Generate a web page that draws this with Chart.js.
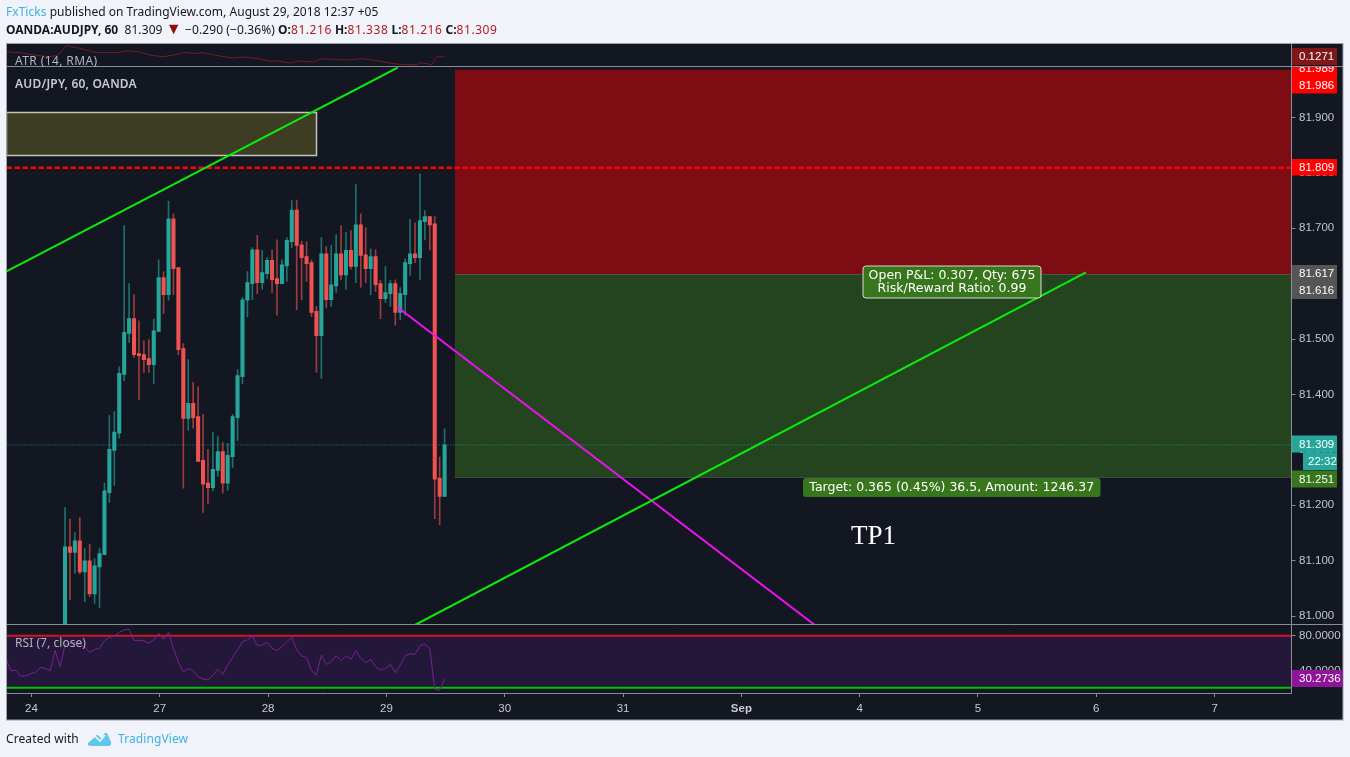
<!DOCTYPE html>
<html>
<head>
<meta charset="utf-8">
<title>AUD/JPY, 60, OANDA</title>
<script src="https://cdn.jsdelivr.net/npm/chart.js@4/dist/chart.umd.min.js"></script>
<style>
html,body{margin:0;padding:0;background:#f0f3fa;width:1350px;height:757px;overflow:hidden}
canvas{position:absolute;left:0;top:0}
.t{position:absolute;left:6px;font:12px/16px "Noto Sans",sans-serif;color:#131722;white-space:nowrap}
.blue{color:#3bb3e4}.red{color:#b01c1c;letter-spacing:.55px}.b{font-weight:700}.n{letter-spacing:.1px}
</style>
</head>
<body>
<canvas id="c" width="1350" height="757"></canvas>
<div class="t" style="top:4px;letter-spacing:.03px"><span class="blue">FxTicks</span> published on TradingView.com, August 29, 2018 12:37 +05</div>
<div class="t" style="top:22px"><span class="b">OANDA:AUDJPY, 60</span>&nbsp; <span class="n">81.309 <span style="color:#8b0f0f;font-size:16px;line-height:12px">▼</span> −0.290 (−0.36%)</span> <span class="b">O:</span><span class="red">81.216</span> <span class="b">H:</span><span class="red">81.338</span> <span class="b">L:</span><span class="red">81.216</span> <span class="b">C:</span><span class="red">81.309</span></div>
<div class="t" style="top:731px;letter-spacing:.1px">Created with</div>
<svg style="position:absolute;left:87px;top:730px" width="25" height="17" viewBox="0 0 25 17"><path d="M1 13 L8 6 Q10 4 12 6 L15 9 L17 4 Q19 1 21 5 L24 12 Q25 16 21 16 L4 16 Q0 16 1 13Z" fill="#62c6ec"/><path d="M2 11 L8 6 L13 11 L18 5" fill="none" stroke="#f0f3fa" stroke-width="1.6"/></svg>
<div class="t blue" style="left:118px;top:731px;letter-spacing:.1px">TradingView</div>
<script>
// ---------- data ----------
const firstBar = -5.2;            // bar number of first indicator sample
const candleOffset = 12;          // candles begin this many samples later
const xTickBars   = [0,26,48,72,96,120,144,168,192,216,240];
const xTickLabels = ['24','27','28','29','30','31','Sep','4','5','6','7'];
const priceTicks  = [81.0,81.1,81.2,81.3,81.4,81.5,81.6,81.7,81.8,81.9];
const rsiTicks    = [80,40];

const opens = [80.96,81.125,81.115,81.136,81.080,81.100,81.040,81.089,81.111,81.223,81.299,81.330,81.436,81.510,81.537,81.474,81.472,81.465,81.454,81.514,
81.611,81.580,81.717,81.629,81.483,81.357,81.384,81.360,81.281,81.240,81.232,81.263,81.297,81.240,81.288,81.358,81.432,81.570,81.600,81.661,
81.602,81.618,81.642,81.609,81.600,81.632,81.676,81.733,81.670,81.649,81.638,81.550,81.506,81.654,81.571,81.596,81.654,81.616,81.660,81.631,
81.706,81.652,81.627,81.649,81.600,81.573,81.582,81.600,81.548,81.580,81.636,81.654,81.647,81.712,81.721,81.708,81.249,81.216];
const highs = [81.196,81.175,81.151,81.178,81.122,81.130,81.104,81.122,81.240,81.362,81.369,81.450,81.705,81.600,81.580,81.533,81.497,81.499,81.536,81.643,
81.622,81.749,81.726,81.629,81.492,81.463,81.422,81.414,81.364,81.301,81.332,81.324,81.313,81.312,81.364,81.445,81.575,81.622,81.665,81.687,
81.660,81.647,81.661,81.679,81.643,81.683,81.750,81.751,81.677,81.676,81.643,81.559,81.683,81.667,81.669,81.688,81.705,81.692,81.696,81.779,
81.726,81.701,81.663,81.661,81.606,81.631,81.606,81.607,81.593,81.645,81.716,81.710,81.798,81.732,81.721,81.721,81.287,81.338];
const lows = [80.94,81.030,81.077,81.076,81.026,81.035,81.023,81.015,81.111,81.205,81.236,81.321,81.425,81.494,81.467,81.390,81.440,81.440,81.419,81.514,
81.546,81.570,81.580,81.472,81.231,81.335,81.339,81.279,81.187,81.203,81.226,81.252,81.222,81.227,81.268,81.317,81.419,81.540,81.571,81.582,
81.590,81.609,81.584,81.543,81.600,81.604,81.665,81.553,81.571,81.604,81.541,81.440,81.429,81.556,81.559,81.584,81.607,81.590,81.626,81.602,
81.593,81.602,81.580,81.586,81.537,81.566,81.559,81.525,81.535,81.543,81.615,81.638,81.607,81.679,81.661,81.176,81.165,81.216];
const closes = [81.125,81.115,81.136,81.080,81.100,81.040,81.091,81.113,81.226,81.301,81.332,81.438,81.512,81.537,81.472,81.470,81.463,81.454,81.515,81.611,
81.580,81.717,81.627,81.481,81.357,81.384,81.358,81.279,81.238,81.232,81.265,81.297,81.240,81.290,81.360,81.434,81.571,81.602,81.661,81.602,
81.620,81.642,81.607,81.600,81.634,81.678,81.733,81.669,81.647,81.636,81.548,81.506,81.654,81.571,81.598,81.654,81.616,81.660,81.631,81.706,
81.651,81.627,81.649,81.598,81.573,81.584,81.600,81.548,81.582,81.638,81.654,81.647,81.714,81.721,81.706,81.247,81.216,81.309];

const rsiValues = [53.9,39.6,40,33.5,33.5,36.2,37.7,43.1,42.3,39.6,63.1,44.2,69.2,
71,72,70,67,60.8,64.2,65.4,74.2,78.1,79.6,83.9,86.6,87.3,74.6,74.6,73.9,71.2,75,82.7,75.8,
83.9,65.4,49.2,38.5,41.9,39.6,32.7,30,28.9,34.6,41.2,35.4,46.2,55,63.5,73.1,75,79.6,68.5,69.2,72.3,65.4,62.7,67.3,73.1,78.1,63.5,56.5,54.6,39.6,34.6,57.7,46.9,50,56.9,51.2,56.9,52.7,62.7,53.9,48.9,52.7,44.2,40.4,42.3,46.9,37.3,46.2,56.9,59.2,58.5,68.5,70,65.4,18.1,16.6,30.27];

const atrBars = [-5,-2.3,0.4,3.75,5.4,7.1,9.8,12.9,18,19,21.7,24,26.7,29.1,30.8,32.8,34.8,38.2,40.9,43,45.7,48.7,50,51.8,53.1,54.1,55.8,57.5,58.5,61.2,63.9,67,69.3,73,74.7,78.1,79.1,81.2,82.2,83.8];
const atrValues = [.1311,.1303,.1285,.1271,.1285,.1359,.1338,.1306,.1306,.1319,.1311,.1285,.1271,.1287,.1306,.1298,.1303,.1277,.1261,.1269,.1258,.1234,.1239,.1223,.1223,.1239,.1231,.1231,.1255,.1250,.1245,.1255,.1245,.1218,.1210,.1207,.1223,.1207,.1271,.1271];

const trendUpperBars = [-5.07,74.3],  trendUpperPrices = [81.622,81.990];
const trendLowerBars = [77.8,213.9],  trendLowerPrices = [80.984,81.6205];
const trendMagentaBars = [74.34,158.9], trendMagentaPrices = [81.557,80.984];
const stopPrice = 81.809, lastPrice = 81.309;
const zoneStartBar = 85.9, zoneEndBar = 255.6;
const stopTop = 81.986, entry = 81.617, target = 81.251;
const boxEndBar = 57.7, boxTop = 81.909, boxBottom = 81.8315;
const rsiUpper = 80, rsiLower = 20;

// ---------- chart ----------
const PL = 6.5, PT = 44, PR = 1291.5, PB = 693, FR = 1343, FB = 720;
const seq = (arr, start) => arr.map((y,i)=>({x:firstBar+start+i, y}));
const pairs = (xs, ys) => xs.map((x,i)=>({x, y:ys[i]}));
const candleX = i => firstBar + candleOffset + i;
const up = i => closes[i] >= opens[i];
const wickUp='rgba(38,166,154,.62)', wickDn='rgba(239,83,80,.62)', bodyUp='#26a69a', bodyDn='#ef5350';
const line = (data, color, width, yAxisID, extra={}) => Object.assign({type:'line',data,borderColor:color,borderWidth:width,pointRadius:0,tension:0,yAxisID,xAxisID:'x',fill:false,parsing:{xAxisKey:'x',yAxisKey:'y'}},extra);

function roundRect(ctx,x,y,w,h,r){ctx.beginPath();ctx.roundRect(x,y,w,h,r);}
const sans='"Noto Sans", sans-serif';
const axisFont='"Liberation Sans", Arial, sans-serif';
const panelFont='"DejaVu Sans", sans-serif';

const chrome = {
  id:'chrome',
  beforeDraw(chart){
    const c=chart.ctx; c.save();
    c.fillStyle='#131722'; c.fillRect(6,43,FR-6,FB-43);
    c.restore();
  },
  beforeDatasetsDraw(chart){
    const c=chart.ctx, s=chart.scales, x=s.x, y=s.yMain, r=s.yRsi; c.save();
    // RSI band
    c.fillStyle='#24183a';
    c.fillRect(x.left,r.getPixelForValue(rsiUpper),x.right-x.left,r.getPixelForValue(rsiLower)-r.getPixelForValue(rsiUpper));
    c.beginPath(); c.rect(x.left,y.top,x.right-x.left,y.bottom-y.top); c.clip();
    const zx=x.getPixelForValue(zoneStartBar), ze=x.getPixelForValue(zoneEndBar);
    const yt=y.getPixelForValue(stopTop), ye=y.getPixelForValue(entry), yb=y.getPixelForValue(target);
    c.fillStyle='#7d0c13'; c.fillRect(zx,yt,ze-zx,ye-yt);
    c.fillStyle='#244420'; c.fillRect(zx,ye,ze-zx,yb-ye);
    c.strokeStyle='rgba(120,130,120,.45)'; c.lineWidth=1;
    c.beginPath(); c.moveTo(zx,Math.round(ye)+.5); c.lineTo(ze,Math.round(ye)+.5); c.moveTo(zx,Math.round(yb)+.5); c.lineTo(ze,Math.round(yb)+.5); c.stroke();
    // supply box
    const bx=x.getPixelForValue(boxEndBar), bt=y.getPixelForValue(boxTop), bb=y.getPixelForValue(boxBottom);
    c.fillStyle='#3c3d22'; c.fillRect(x.left,bt,bx-x.left,bb-bt);
    c.strokeStyle='#c4c5ba'; c.lineWidth=1.5;
    c.strokeRect(x.left,Math.round(bt)+.5,Math.round(bx)-x.left+.5,Math.round(bb-bt));
    c.restore();
  },
  afterDatasetsDraw(chart){
    const c=chart.ctx, s=chart.scales, x=s.x, y=s.yMain, a=s.yAtr, r=s.yRsi; c.save();
    // pane lines and frame
    c.strokeStyle='#8a8d95'; c.lineWidth=1;
    c.beginPath();
    c.moveTo(6,Math.round(a.bottom)-.5); c.lineTo(FR,Math.round(a.bottom)-.5);
    c.moveTo(6,Math.round(y.bottom)-.5); c.lineTo(FR,Math.round(y.bottom)-.5);
    c.moveTo(6,PB+.5); c.lineTo(PR,PB+.5);
    c.moveTo(PR,43); c.lineTo(PR,PB+.5);
    c.stroke();
    c.strokeStyle='#9ea1a8';
    c.strokeRect(6.5,43.5,FR-6.5,FB-43.5);

    // pane captions
    c.textBaseline='alphabetic'; c.textAlign='left';
    c.save(); c.beginPath(); c.rect(7,44,400,23); c.clip();
    c.letterSpacing='.4px';
    c.font='12px '+sans; c.fillStyle='#b2b5be'; c.fillText('ATR (14, RMA)',15,65); c.restore();
    c.letterSpacing='.2px';
    c.font='600 12px '+sans; c.fillStyle='#c8cad0'; c.fillText('AUD/JPY, 60, OANDA',15,88);
    c.letterSpacing='.05px';
    c.font='12px '+sans; c.fillStyle='#b2b5be'; c.fillText('RSI (7, close)',15,647);
    c.letterSpacing='0px';

    // order panels
    const panel=(bx,by,bw,bh,border,lines)=>{
      roundRect(c,bx,by,bw,bh,3); c.fillStyle='#38761d'; c.fill();
      if(border){c.strokeStyle='#d5dcd2'; c.lineWidth=1; c.stroke();}
      c.fillStyle='#ffffff'; c.font='12.5px '+panelFont; c.textAlign='center'; c.textBaseline='middle';
      lines.forEach((t,i)=>c.fillText(t,bx+bw/2,by+bh/2+.5+(i-(lines.length-1)/2)*13));
    };
    panel(863,266,178,32,true,['Open P&L: 0.307, Qty: 675','Risk/Reward Ratio: 0.99']);
    panel(803,478,297.5,19,false,['Target: 0.365 (0.45%) 36.5, Amount: 1246.37']);
    c.font='27px "Liberation Serif", serif'; c.fillStyle='#ffffff'; c.textAlign='left'; c.textBaseline='alphabetic';
    c.fillText('TP1',851,544);

    // axis value tags
    const tag=(text,by,bh,bg,bx=PR+.5,bw=45,clipTop=43,clipBot=FB)=>{
      c.save(); c.beginPath(); c.rect(PR+.5,clipTop,FR-PR-1,clipBot-clipTop); c.clip();
      c.fillStyle=bg; c.fillRect(bx,by,bw,bh);
      c.fillStyle='#ffffff'; c.font='11.5px '+axisFont; c.textAlign='left'; c.textBaseline='middle';
      c.fillText(text,bx+(text==='22:32'?5:7),by+bh/2+.5); c.restore();
    };
    tag('0.1271',48,17,'#7f1618',undefined,undefined,44,a.bottom-1);
    tag('81.989',60.5,16.5,'#ff0000',undefined,undefined,a.bottom,y.bottom);
    tag('81.986',77,16.5,'#ff0000');
    tag('81.809',159,16.5,'#ff0000');
    tag('81.617',265,17,'#555555');
    tag('81.616',282,17,'#555555');
    tag('81.309',435.5,17,'#26a69a');
    tag('22:32',452.5,17.5,'#26a69a',1303,34);
    tag('81.251',470.5,17,'#38761d');
    tag('30.2736',670,17,'#8e1599',undefined,51);
    c.restore();
  }
};

new Chart(document.getElementById('c'),{
  type:'bar',
  data:{datasets:[
    line([{x:-5.07,y:rsiUpper},{x:255.6,y:rsiUpper}],'#d8102c',2,'yRsi',{order:5}),
    line([{x:-5.07,y:rsiLower},{x:255.6,y:rsiLower}],'#00c400',2,'yRsi',{order:5}),
    line(seq(rsiValues,0),'#7b1f92',1,'yRsi',{order:4}),
    line(pairs(atrBars,atrValues),'#761b22',1,'yAtr',{order:4}),
    line([{x:-5.07,y:lastPrice},{x:255.6,y:lastPrice}],'rgba(38,166,154,.8)',1,'yMain',{borderDash:[1,2],order:6}),
    {type:'bar',data:highs.map((h,i)=>({x:candleX(i),y:[lows[i],h]})),backgroundColor:ctx=>up(ctx.dataIndex)?wickUp:wickDn,barThickness:1,grouped:false,yAxisID:'yMain',xAxisID:'x',order:3},
    {type:'bar',data:opens.map((o,i)=>({x:candleX(i),y:[o,closes[i]]})),backgroundColor:ctx=>up(ctx.dataIndex)?bodyUp:bodyDn,barThickness:3.4,grouped:false,yAxisID:'yMain',xAxisID:'x',order:2},
    line(pairs(trendUpperBars,trendUpperPrices),'#0cec0c',2,'yMain',{order:1}),
    line(pairs(trendLowerBars,trendLowerPrices),'#0cec0c',2,'yMain',{order:1}),
    line(pairs(trendMagentaBars,trendMagentaPrices),'#f010f0',2,'yMain',{order:1}),
    line([{x:-5.07,y:stopPrice},{x:255.6,y:stopPrice}],'#ff0000',2.5,'yMain',{borderDash:[5.5,2.5],order:1})
  ]},
  options:{
    responsive:false,animation:false,events:[],
    layout:{padding:{left:PL,top:PT,right:1350-FR,bottom:757-FB}},
    plugins:{legend:{display:false},tooltip:{enabled:false},title:{display:false}},
    scales:{
      x:{type:'linear',min:-5.07,max:255.6,offset:false,
        afterBuildTicks:s=>{s.ticks=xTickBars.map(v=>({value:v}));},
        afterFit:s=>{s.height=FB-PB;},
        border:{display:false},
        grid:{offset:false,drawOnChartArea:false,drawTicks:true,tickLength:4,color:'#8a8d95'},
        ticks:{autoSkip:false,maxRotation:0,padding:5,color:'#c8cad0',
          font:ctx=>({family:axisFont,size:11.5,weight:(ctx.tick&&ctx.index===6)?'bold':'normal'}),
          callback:(v,i)=>xTickLabels[i]}},
      yAtr:{type:'linear',position:'right',stack:'panes',stackWeight:23,weight:1,min:.1189,max:.1373,
        afterFit:s=>{s.width=FR-PR;},border:{display:false},grid:{display:false},ticks:{display:false}},
      yMain:{type:'linear',position:'right',stack:'panes',stackWeight:558,weight:2,min:80.984,max:81.991,
        afterBuildTicks:s=>{s.ticks=priceTicks.map(v=>({value:v}));},
        afterFit:s=>{s.width=FR-PR;},border:{display:false},
        grid:{drawOnChartArea:false,drawTicks:true,tickLength:4,color:'#8a8d95'},
        ticks:{autoSkip:false,padding:3.5,color:'#c2c5cc',font:{family:axisFont,size:11.5},callback:v=>v.toFixed(3)}},
      yRsi:{type:'linear',position:'right',stack:'panes',stackWeight:68,weight:3,min:13.9,max:92.3,
        afterBuildTicks:s=>{s.ticks=rsiTicks.map(v=>({value:v}));},
        afterFit:s=>{s.width=FR-PR;},border:{display:false},
        grid:{drawOnChartArea:false,drawTicks:true,tickLength:4,color:'#8a8d95'},
        ticks:{autoSkip:false,padding:3.5,color:'#c2c5cc',font:{family:axisFont,size:11.5},callback:v=>v.toFixed(4)}}
    }
  },
  plugins:[chrome]
});
</script>
</body>
</html>
